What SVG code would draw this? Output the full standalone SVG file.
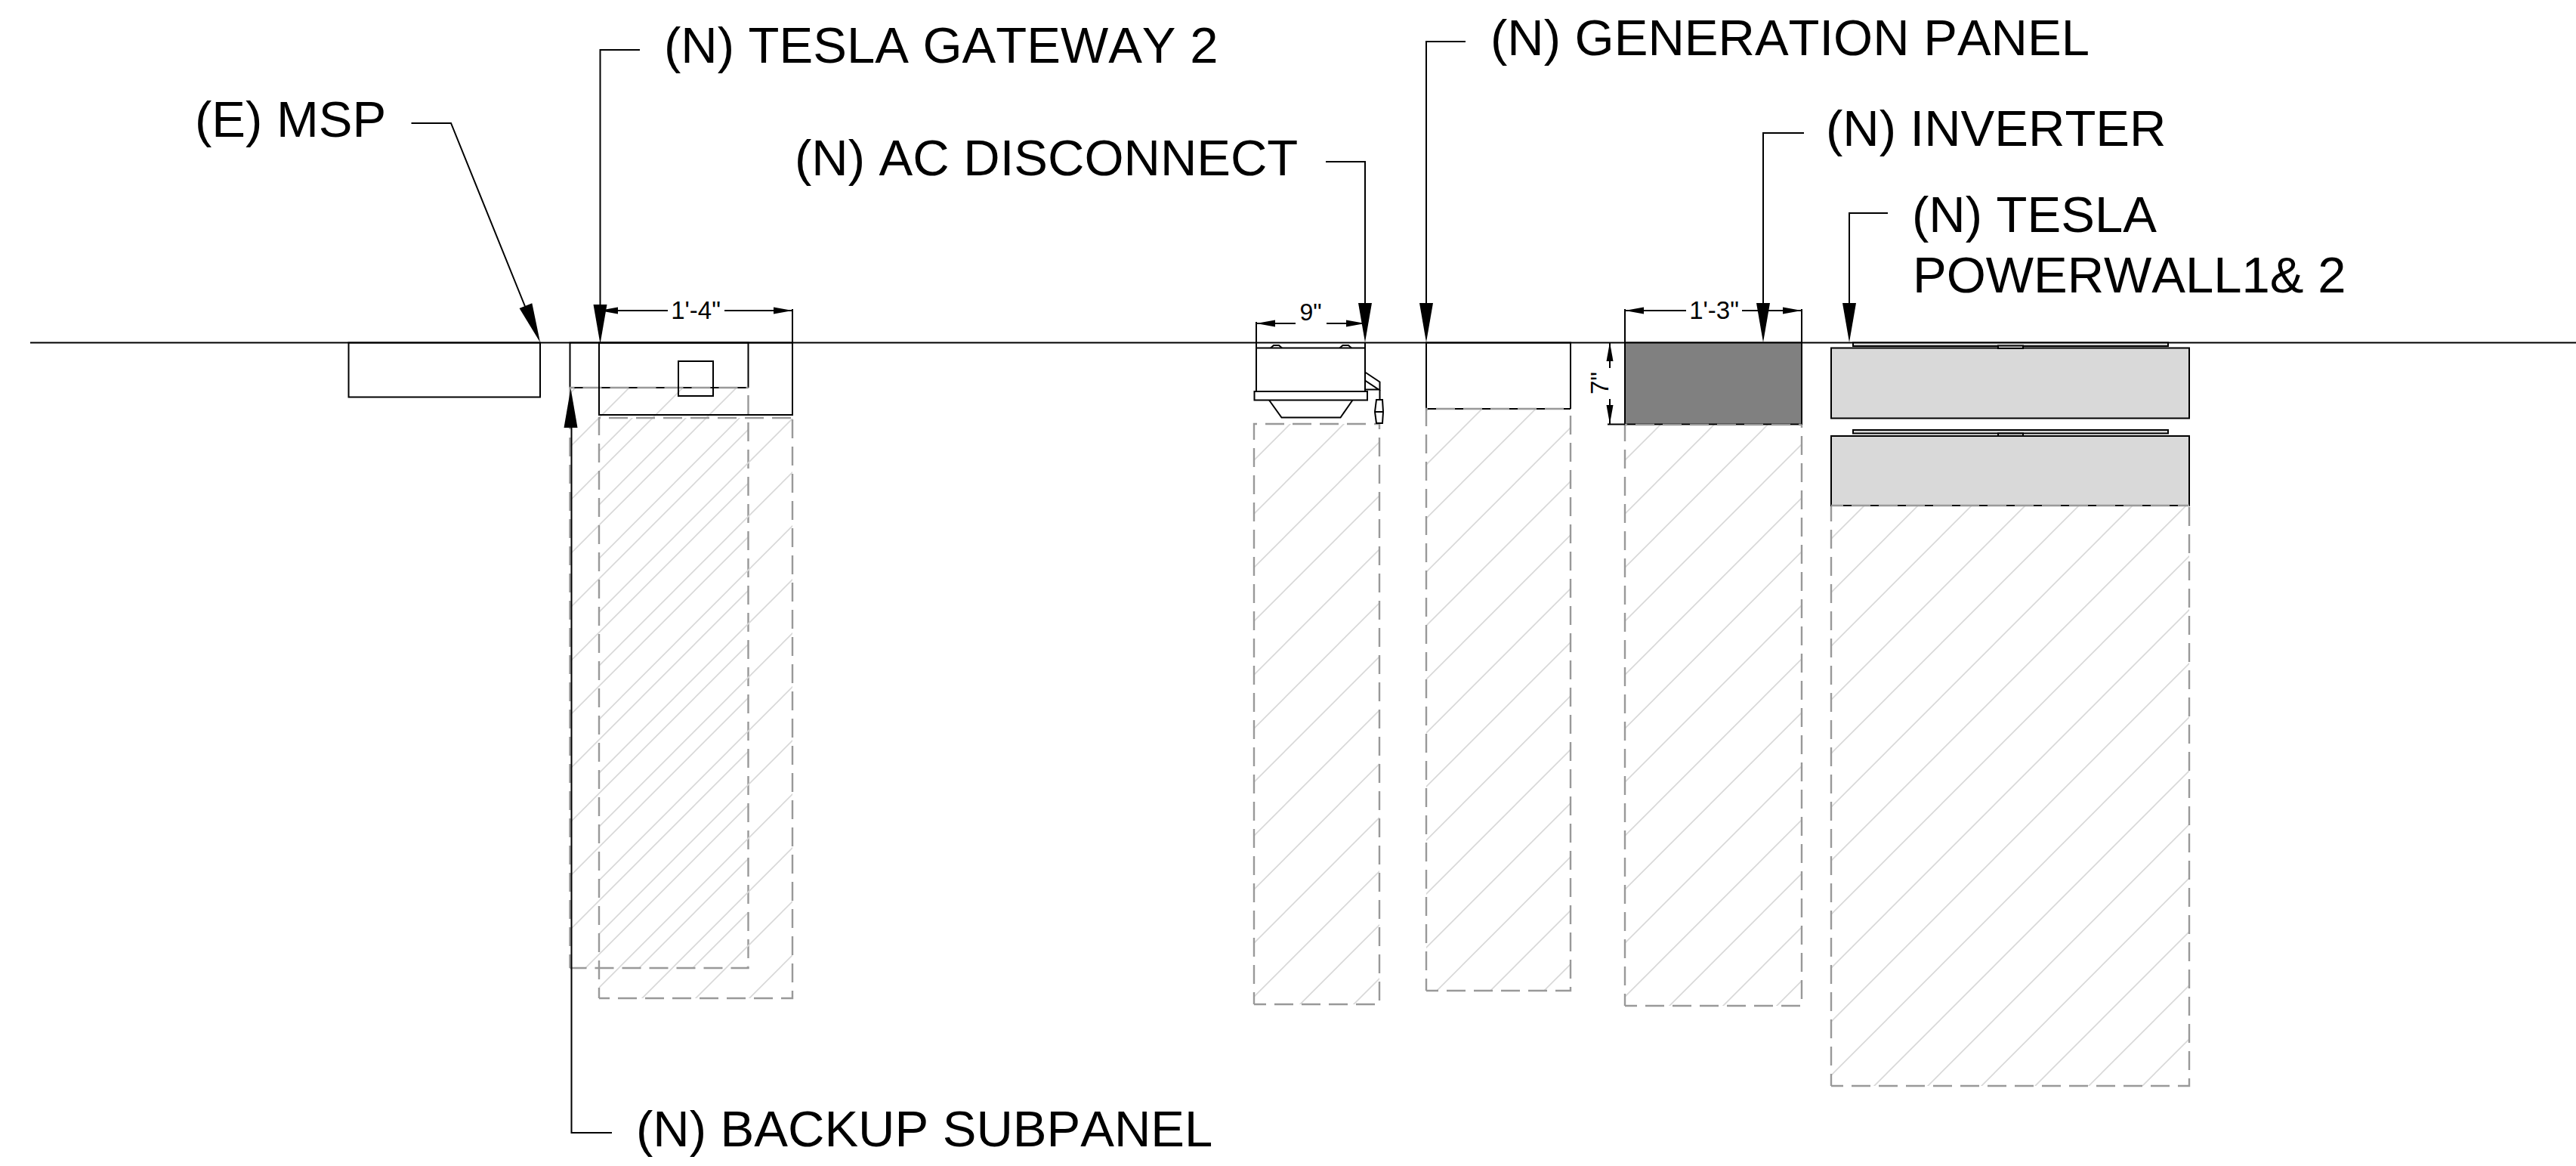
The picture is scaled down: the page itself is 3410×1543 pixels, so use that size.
<svg xmlns="http://www.w3.org/2000/svg" width="3410" height="1543" viewBox="0 0 3410 1543">
<style>
.o{fill:none;stroke:#000;stroke-width:2}
.w{fill:#fff;stroke:#000;stroke-width:2}
.l{fill:none;stroke:#000;stroke-width:2}
.d{fill:none;stroke:#999;stroke-width:2.400;stroke-dasharray:25 11;stroke-dashoffset:9}
.h{stroke:#d8d8d8;stroke-width:1.600;fill:none}
.g{fill:#d9d9d9;stroke:#000;stroke-width:2}
.a{fill:#000;stroke:none}
text{font-family:"Liberation Sans",Arial,sans-serif;fill:#000;font-kerning:none}
.t{font-size:67px}
.s{font-size:33px;text-anchor:middle}
</style>
<defs>
<path id="ah" class="a" d="M0 0L-9 -52L9 -52Z"/>
<path id="da" class="a" d="M0 0L-25 -4.500L-25 4.500Z"/>
<pattern id="p1" patternUnits="userSpaceOnUse" x="68" y="0" width="71" height="71"><path class="h" d="M-1 1L1 -1M0 71L71 0M70 72L72 70"/></pattern>
<pattern id="p2" patternUnits="userSpaceOnUse" x="41" y="0" width="71" height="71"><path class="h" d="M-1 1L1 -1M0 71L71 0M70 72L72 70"/></pattern>
<pattern id="p3" patternUnits="userSpaceOnUse" x="68" y="0" width="71" height="71"><path class="h" d="M-1 1L1 -1M0 71L71 0M70 72L72 70"/></pattern>
<pattern id="p4" patternUnits="userSpaceOnUse" x="18" y="0" width="71" height="71"><path class="h" d="M-1 1L1 -1M0 71L71 0M70 72L72 70"/></pattern>
<pattern id="p5" patternUnits="userSpaceOnUse" x="62" y="0" width="71" height="71"><path class="h" d="M-1 1L1 -1M0 71L71 0M70 72L72 70"/></pattern>
<pattern id="p6" patternUnits="userSpaceOnUse" x="13" y="0" width="71" height="71"><path class="h" d="M-1 1L1 -1M0 71L71 0M70 72L72 70"/></pattern>
</defs>
<g id="wall"><line class="l" x1="40" y1="453.500" x2="3410" y2="453.500"/></g>

<g id="msp"><rect class="o" x="461.500" y="453.500" width="253.500" height="72"/>
<text class="t" x="258" y="181">(E) MSP</text></g>

<g id="backup-subpanel">
<rect x="754.500" y="513" width="236" height="768" fill="url(#p1)"/>
<path class="o" d="M754.500 513V453.500H990.500V513"/>
<path class="l" d="M754.500 513H990.500"/>
<path class="d" style="stroke-dashoffset:3" d="M754.500 1281H990.500V513"/>
<path class="d" style="stroke-dashoffset:7" d="M754.500 1281V513H990.500"/>
<text class="t" x="842" y="1517">(N) BACKUP SUBPANEL</text></g>

<g id="tesla-gateway">
<rect x="793" y="553" width="256" height="768" fill="url(#p2)"/>
<rect class="o" x="793" y="453.500" width="256" height="95.500"/>
<rect class="o" x="898" y="478" width="46" height="46"/>
<path class="d" style="stroke-dashoffset:11" d="M793 1321H1049V553"/>
<path class="d" style="stroke-dashoffset:11" d="M793 1321V553H1049"/>
<text class="t" x="879" y="83">(N) TESLA GATEWAY 2</text>
<path class="l" d="M1049 409V453"/>
<path class="l" d="M793 411H884M959 411H1049"/>
<use href="#da" transform="translate(793 411) rotate(180)"/><use href="#da" x="1049" y="411"/>
<text class="s" x="921" y="421.500">1'-4"</text></g>

<g id="ac-disconnect">
<rect x="1660" y="561" width="166" height="768" fill="url(#p3)"/>
<path class="d" d="M1660 1329H1826V561"/>
<path class="d" d="M1660 1329V561H1826"/>
<path class="l" d="M1663 426V461M1807 453V461"/>
<path class="l" d="M1663 428H1715M1756 428H1807"/>
<use href="#da" transform="translate(1663 428) rotate(180)"/><use href="#da" x="1807" y="428"/>
<rect class="o" x="1663" y="460.500" width="144" height="57.500"/>
<path class="l" d="M1682 460.500L1686 457H1693L1697 460.500M1773.500 460.500L1777.500 457H1785L1789 460.500"/>
<rect class="w" x="1660.500" y="518" width="149.500" height="11.500"/>
<path class="l" d="M1680 529.500L1696.500 552.500H1774.500L1790.500 529.500"/>
<path class="l" d="M1807 492.500L1826.500 505.500V529M1807 503.500L1825 515.500H1807"/>
<path class="w" d="M1822 529H1830L1831 545L1830 560H1822L1820 545Z"/>
<path class="l" d="M1820 545H1831"/>
<text class="s" style="font-size:32px" x="1735" y="424">9"</text>
<text class="t" x="1052" y="232">(N) AC DISCONNECT</text></g>

<g id="generation-panel">
<rect x="1888" y="541" width="191" height="770" fill="url(#p4)"/>
<path class="o" d="M1888 541V453.500H2079V541"/>
<path class="l" d="M1888 541H2079"/>
<path class="d" d="M1888 1311H2079V541"/>
<path class="d" d="M1888 1311V541H2079"/>
<text class="t" x="1973" y="73">(N) GENERATION PANEL</text></g>

<g id="inverter">
<rect x="2151" y="562" width="234" height="769" fill="url(#p5)"/>
<rect x="2151" y="453.500" width="234" height="108" fill="#808080" stroke="#000" stroke-width="2"/>
<path class="d" d="M2151 1331H2385V562"/>
<path class="d" d="M2151 1331V562H2385"/>
<path class="l" d="M2151 409V453M2385 409V453"/>
<path class="l" d="M2151 411H2232M2306 411H2385"/>
<use href="#da" transform="translate(2151 411) rotate(180)"/><use href="#da" x="2385" y="411"/>
<text class="s" x="2269" y="421.500">1'-3"</text>
<path class="l" d="M2128 561.500H2151M2131 453V487M2131 528V561"/>
<use href="#da" transform="translate(2131 453) rotate(-90)"/><use href="#da" transform="translate(2131 561) rotate(90)"/>
<text class="s" transform="translate(2128.500 507) rotate(-90)">7"</text>
<text class="t" x="2417" y="193">(N) INVERTER</text></g>

<g id="tesla-powerwall">
<rect x="2424" y="669" width="474" height="768" fill="url(#p6)"/>
<path class="d" d="M2424 1437H2898V669"/>
<path class="d" d="M2424 1437V669"/>
<rect class="g" x="2424" y="460.500" width="474" height="93"/>
<rect class="g" x="2424" y="577" width="474" height="92"/>
<rect class="g" x="2453" y="453.500" width="417" height="4.500"/>
<rect class="g" x="2453" y="569" width="417" height="4.500"/>
<rect class="g" x="2645" y="457.500" width="33" height="3.500"/>
<rect class="g" x="2645" y="573.500" width="33" height="3.500"/>
<path class="d" d="M2424 669H2898"/>
<text class="t" x="2531" y="307">(N) TESLA</text>
<text class="t" x="2532" y="387">POWERWALL1&amp; 2</text></g>

<g id="connectors">
<path class="l" d="M544.500 163H597L709 440"/><use href="#ah" transform="translate(715 453) rotate(-21.500)"/>
<path class="l" d="M847 66H794.500V410"/><use href="#ah" x="794.500" y="455"/>
<path class="l" d="M810 1499H756.500V560"/><use href="#ah" transform="translate(755.500 514) rotate(180)"/>
<path class="l" d="M1755 214H1807V405"/><use href="#ah" x="1807" y="453"/>
<path class="l" d="M1940 55H1888V405"/><use href="#ah" x="1888" y="453"/>
<path class="l" d="M2388 176H2334V405"/><use href="#ah" x="2334" y="453"/>
<path class="l" d="M2499 282H2448V405"/><use href="#ah" x="2448" y="453"/>
</g>
</svg>
